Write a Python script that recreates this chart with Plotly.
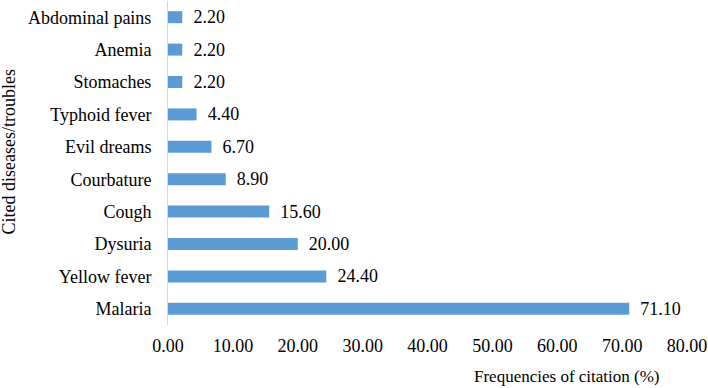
import plotly.graph_objects as go

categories = ["Malaria", "Yellow fever", "Dysuria", "Cough", "Courbature",
              "Evil dreams", "Typhoid fever", "Stomaches", "Anemia", "Abdominal pains"]
values = [71.10, 24.40, 20.00, 15.60, 8.90, 6.70, 4.40, 2.20, 2.20, 2.20]
x_ticks = [0, 10, 20, 30, 40, 50, 60, 70, 80]
x_tick_labels = ["%.2f" % v for v in x_ticks]

FONT = "Liberation Serif, Times New Roman, serif"
W, H = 708, 388
L, R, T, B = 168, 21, 1, 63
PW, PH = W - L - R, H - T - B

fig = go.Figure(go.Bar(
    x=values, y=categories, orientation="h",
    marker=dict(color="#5B9BD5", line=dict(width=0)),
    width=0.37,
    text=["\u00a0\u2009%.2f" % v for v in values],
    textposition="outside",
    constraintext="none",
    textfont=dict(family=FONT, size=18, color="#000000"),
    cliponaxis=False,
    hoverinfo="x+y",
))

fig.update_layout(
    width=W, height=H,
    margin=dict(l=L, r=R, t=T, b=B, autoexpand=False),
    plot_bgcolor="white", paper_bgcolor="white",
    showlegend=False,
    font=dict(family=FONT, size=18, color="#000000"),
    uniformtext=dict(mode=False),
    xaxis=dict(range=[0, 80], tickvals=x_ticks, ticktext=x_tick_labels,
               showgrid=False, zeroline=False, showline=False,
               ticks="", ticklabelstandoff=8, automargin=False,
               tickfont=dict(family=FONT, size=18, color="#000000")),
    yaxis=dict(showgrid=False, zeroline=False, showline=True, linecolor="#D9D9D9",
               linewidth=1, ticks="", ticklabelstandoff=12, automargin=False,
               tickfont=dict(family=FONT, size=18, color="#000000")),
    annotations=[
        dict(text="Frequencies of citation (%)", xref="paper", yref="paper",
             x=(472 - L) / PW, y=-(376 - (H - B)) / PH, xanchor="left", yanchor="middle",
             showarrow=False, font=dict(family=FONT, size=17, color="#000000")),
        dict(text="Cited diseases/troubles", xref="paper", yref="paper",
             x=(8 - L) / PW, y=1 - (152.5 - T) / PH, xanchor="center", yanchor="middle",
             textangle=-90, showarrow=False,
             font=dict(family=FONT, size=18, color="#000000")),
    ],
)

fig.write_html("out.html", config={"displayModeBar": False},
               post_script="document.body.style.margin='0';")
